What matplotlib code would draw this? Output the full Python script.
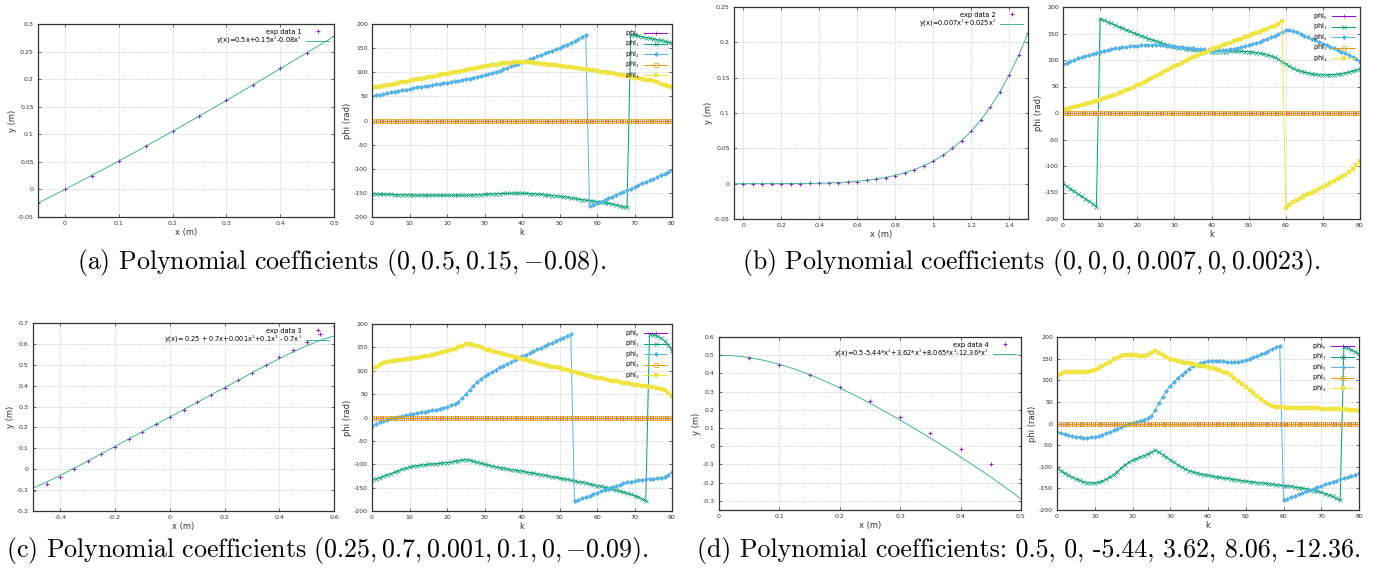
import numpy as np
import matplotlib.pyplot as plt
from matplotlib import ticker
from numpy.polynomial import polynomial as P

plt.rcParams['mathtext.fontset'] = 'cm'

W, H = 1373, 579

# gnuplot default palette
C_PURPLE = '#9400d3'
C_GREEN = '#009e73'
C_BLUE = '#56b4e9'
C_ORANGE = '#e69f00'
C_YELLOW = '#f0e442'

k = np.arange(81)
PHI_ZERO = np.zeros(81)

# ─── (a) coefficients (0, 0.5, 0.15, -0.08) ─────────────────────
XA = [-0.05, 0, 0.05, 0.1, 0.15, 0.2, 0.25, 0.3, 0.35, 0.4, 0.45, 0.5]
YA = [-0.025, 0, 0.025, 0.051, 0.078, 0.106, 0.134, 0.162, 0.19, 0.22, 0.248, 0.278]
COEF_A = [0, 0.5, 0.15, -0.08]
A_PHI1 = [-152, -152, -152.5, -153, -153, -153, -153.5, -154, -154, -154,
          -154, -154.5, -155, -155, -155, -155, -155, -155, -155, -155,
          -155, -155, -155, -155, -155, -155, -154.5, -154, -154, -153.5,
          -153, -152.5, -152, -152, -151.5, -151, -151, -151, -150.5, -150.5,
          -150.5, -151, -151.5, -152, -152.5, -153, -154, -155, -155.5, -156,
          -157, -158, -159, -160.5, -161.5, -163, -164, -165, -166, -167,
          -168, -169, -170.5, -171.5, -173, -174.5, -176.5, -178.5, -180, 178,
          176.5, 175, 173.5, 172, 170.5, 169, 167.5, 166, 164, 162,
          160]
A_PHI2 = [50, 52, 53.5, 55, 57, 58.5, 60, 61.5, 63, 64,
          65.5, 67, 68.5, 70, 71, 72, 73.5, 75, 76, 77,
          78, 79.5, 81, 82.5, 84, 85.5, 87, 89, 91, 93,
          95, 97, 99, 101, 103.5, 106, 109, 112, 115, 118,
          121, 124, 127, 130, 133, 136, 139, 142, 145, 148,
          151, 154, 157.5, 161, 165, 169, 173.5, 178, -178, -175,
          -171, -168, -164.5, -161, -158, -154.5, -151, -147.5, -144, -141,
          -137.5, -134, -130.5, -127, -124, -120.5, -117, -113.5, -110, -106.5,
          -103]
A_PHI4 = [67, 68.5, 70, 71.5, 73, 74.5, 76, 77.5, 79, 80.5,
          82, 83.5, 85, 86.5, 88, 89.5, 91, 92.5, 94, 95.5,
          97, 98.5, 100, 101.5, 103, 104.5, 106, 107.5, 109, 110.5,
          112, 113.5, 115, 116, 117.5, 118.5, 119.5, 120, 120.5, 121,
          121, 121, 120.5, 120, 119, 118, 117, 116, 115, 114,
          113, 112, 111, 110, 109, 108, 107, 106, 105, 104,
          102.5, 101, 100, 99, 98, 96.5, 95, 93.5, 92, 90.5,
          89, 87.5, 86, 84.5, 83, 81, 79, 76.5, 74, 71.5,
          69]

# ─── (b) coefficients (0, 0, 0, 0.007, 0, 0.0023) ───────────────
XB = [0, 0.05, 0.1, 0.15, 0.2, 0.25, 0.3, 0.35, 0.4, 0.45,
      0.5, 0.55, 0.6, 0.65, 0.7, 0.75, 0.8, 0.85, 0.9, 0.95,
      1.0, 1.05, 1.1, 1.15, 1.2, 1.25, 1.3, 1.35, 1.4, 1.45, 1.5]
YB = [0, 0, 0, 0, 0, 0, 0.0002, 0.0004, 0.0006, 0.001,
      0.0015, 0.002, 0.003, 0.0045, 0.006, 0.008, 0.011, 0.0145, 0.019, 0.025,
      0.032, 0.040, 0.05, 0.061, 0.074, 0.09, 0.108, 0.13, 0.154, 0.182, 0.213]
COEF_B = [0, 0, 0, 0.007, 0, 0.025]
B_PHI1 = [-133, -138, -143, -148, -153, -157.5, -162, -166.5, -171.5, -177,
          178, 175, 172, 169, 166, 163, 160, 157, 154, 151,
          148.5, 146, 143, 140.5, 138, 135.5, 133.5, 131, 129, 127,
          125, 123.5, 122, 121, 120, 119, 118, 117.5, 117, 116.5,
          116, 116, 116, 116, 116, 116.5, 116.5, 116.5, 116.5, 116,
          116, 115, 114, 113, 112, 110, 108, 105, 101, 97,
          93, 88, 84, 81, 78.5, 77, 75.5, 74, 73, 72.5,
          72, 72, 72, 72.5, 73, 74, 75.5, 77, 79, 81,
          83]
B_PHI2 = [92, 95, 98, 100.5, 103, 105, 107.5, 109.5, 111.5, 114,
          116, 117.5, 119, 120.5, 122, 123, 124, 125, 126, 126.5,
          127, 127.5, 128, 128, 128, 128, 128, 127.5, 127, 126.5,
          126, 125, 124, 123.5, 123, 122, 121, 120.5, 120, 119,
          118.5, 118, 118, 118.5, 119, 120, 121, 122.5, 124, 126,
          128, 130, 132, 134.5, 137, 140, 143, 146, 149.5, 153,
          156, 157, 155, 152, 149, 146, 143, 140, 137, 134,
          131, 128, 125, 122, 119, 116, 112.5, 109, 105, 101,
          97]
B_PHI4 = [5, 7, 9, 11, 13, 15, 17, 19, 21, 23,
          25, 27.5, 30, 32, 34.5, 37, 40, 43, 46, 49,
          52, 55.5, 59, 62.5, 66, 70, 73.5, 77, 81, 84.5,
          88, 91.5, 95, 98.5, 102, 105, 108, 111, 114, 117,
          120, 122.5, 125, 127.5, 130, 133, 135.5, 138, 140.5, 143,
          146, 148.5, 151, 153.5, 156, 158.5, 161.5, 164.5, 168, 173,
          -180, -173, -168, -164, -160.5, -157, -153.5, -150, -146.5, -143,
          -139.5, -136, -132.5, -129, -125, -121, -116.5, -111.5, -106, -99,
          -90]

# ─── (c) coefficients (0.25, 0.7, 0.001, 0.1, 0, -0.09) ─────────
XC = [-0.5, -0.45, -0.4, -0.35, -0.3, -0.25, -0.2, -0.15, -0.1, -0.05,
      0, 0.05, 0.1, 0.15, 0.2, 0.25, 0.3, 0.35, 0.4, 0.45, 0.5, 0.55, 0.6]
YC = [-0.104, -0.07, -0.035, 0.0, 0.038, 0.073, 0.108, 0.145, 0.18, 0.215,
      0.25, 0.285, 0.32, 0.355, 0.39, 0.427, 0.462, 0.498, 0.535, 0.57, 0.61, 0.647, 0.687]
COEF_C = [0.25, 0.7, 0.001, 0.1, 0, -0.7]
C_PHI1 = [-133, -131, -128.5, -126, -123, -120, -117, -114, -111, -108.5,
          -106, -104.5, -103, -102, -101, -100, -99.5, -99, -98, -97,
          -96.5, -95.5, -94, -92.5, -91, -90, -91.5, -94, -96, -98,
          -100, -102, -104, -105.5, -107, -108.5, -110, -111.5, -112.5, -114,
          -115, -116.5, -118, -119, -120.5, -122, -123.5, -125, -126.5, -128,
          -129.5, -131, -132.5, -134, -135.5, -137, -138.5, -140, -142, -143.5,
          -145.5, -147.5, -149.5, -151.5, -153.5, -155.5, -157.5, -159.5, -162, -164.5,
          -167, -170, -174, -179, 179, 177, 174, 170, 164, 156,
          143]
C_PHI2 = [-18, -14, -10, -7, -4.5, -2, 0, 2, 3.5, 5,
          6.5, 8, 9.5, 11, 12.5, 14, 15.5, 17, 19, 21,
          23, 26, 29.5, 34, 41, 50, 59, 68, 75, 82,
          88, 93, 98, 102.5, 107, 111, 115, 119, 123, 127,
          131, 134.5, 138, 142, 145.5, 149, 153, 156.5, 160, 164,
          167.5, 171, 175, 179, -179, -176, -173, -170, -167, -164,
          -161, -158, -155, -152, -149, -146, -143.5, -141, -139, -137,
          -135.5, -134, -133, -132, -131, -130.5, -130, -129, -127, -123,
          -116]
C_PHI4 = [100, 107, 113, 116, 118, 120, 121.5, 122.5, 123.5, 124.5,
          125.5, 126.5, 128, 129.5, 131, 132.5, 134, 136, 138, 140,
          142, 144.5, 147, 150, 153.5, 157.5, 157, 155, 152.5, 150,
          147.5, 145, 142.5, 140, 137.5, 135, 133, 131, 129, 127,
          125, 123, 121, 119, 117, 115, 113, 111, 109, 107,
          105, 103, 101, 99, 97, 95, 93, 91, 89, 87,
          85, 83.5, 82, 80.5, 79, 77.5, 76, 74.5, 73, 71.5,
          70, 69, 68, 67, 66, 64.5, 63, 61, 58, 53,
          47]

# ─── (d) coefficients 0.5, 0, -5.44, 3.62, 8.06, -12.36 ─────────
XD = [0, 0.05, 0.1, 0.15, 0.2, 0.25, 0.3, 0.35, 0.4, 0.45, 0.5]
YD = [0.5, 0.483, 0.446, 0.391, 0.325, 0.249, 0.163, 0.075, -0.015, -0.1, -0.18]
COEF_D = [0.5, 0, -5.44, 3.62, 8.065, -12.36]
D_PHI1 = [-103, -109, -115, -120, -124, -128, -131.5, -134.5, -136.5, -137.5,
          -137.5, -136, -133, -129, -124, -118, -111, -103, -96, -90,
          -85, -81, -77.5, -74, -70.5, -67, -62, -67, -72, -78,
          -84, -90, -95.5, -100.5, -105, -109, -112, -114.5, -116.5, -118.5,
          -120, -121.5, -123, -124.5, -125.5, -127, -128, -129.5, -131, -132,
          -133.5, -134.5, -135.5, -136.5, -137.5, -138.5, -139.5, -140.5, -141.5, -142.5,
          -143.5, -144.5, -145.5, -147, -148, -149.5, -151, -153, -155, -157,
          -159.5, -162, -165, -168.5, -173, -178, 176, 174, 171, 166,
          160]
D_PHI2 = [-19, -22, -25, -27.5, -29.5, -31, -32, -32.5, -32.5, -32,
          -30.5, -28.5, -26, -23, -19.5, -16, -12, -8, -4, -1,
          2, 4, 6.5, 9, 12, 17, 32, 48, 62, 75,
          86, 96, 105, 113, 120, 127, 132, 136, 139.5, 142,
          144, 145, 145.5, 145, 144, 143, 142, 142, 143, 145,
          147, 150, 153, 156, 160, 164, 168, 172, 176, 180,
          -177, -174, -170.5, -167, -164, -160.5, -157, -154, -150.5, -147,
          -144, -141, -138, -135, -132, -129, -126.5, -124, -121, -118,
          -115]
D_PHI4 = [110, 115, 118, 119, 119, 118.5, 118, 118, 119, 121,
          124, 128, 133, 138, 143, 148, 152.5, 156, 158, 158.5,
          158, 157.5, 157, 157, 158, 162, 168, 164, 158, 153,
          149, 146, 144, 142, 140.5, 139, 137.5, 136, 134, 132,
          130, 128, 126, 123, 120, 116, 111, 105, 98, 91,
          84, 77, 70, 63, 56, 50, 45, 41, 38.5, 37.5,
          37, 36.5, 36.5, 36, 36, 35.5, 35.5, 35, 35, 35,
          34.5, 34, 34, 33.5, 33, 33, 32.5, 32, 31.5, 31,
          30]

fig = plt.figure(figsize=(W / 100, H / 100), dpi=100)


def box(x0, y0, x1, y1):
    """pixel box (left, top, right, bottom) -> figure fraction rect"""
    return [x0 / W, 1 - y1 / H, (x1 - x0) / W, (y1 - y0) / H]


def style(ax):
    ax.grid(True, ls=':', lw=0.5, color='#b0b0b0')
    ax.set_axisbelow(True)
    ax.tick_params(direction='in', top=True, right=True, length=2.5,
                   width=0.5, labelsize=4.5, colors='#333333', pad=3)
    ax.xaxis.set_major_formatter(ticker.FuncFormatter(lambda v, p: f'{v:g}'))
    ax.yaxis.set_major_formatter(ticker.FuncFormatter(lambda v, p: f'{v:g}'))
    for s in ax.spines.values():
        s.set_linewidth(0.9)
        s.set_color('#333333')


def fit_panel(rect, xs, ys, coef, xlim, ylim, xticks, yticks, n, fit_label):
    ax = fig.add_axes(box(*rect))
    ax.plot(xs, ys, ls='none', marker='+', ms=3, mew=0.6, color=C_PURPLE,
            label=f'exp data {n}')
    xx = np.linspace(xlim[0], xlim[1], 400)
    ax.plot(xx, P.polyval(xx, coef), color=C_GREEN, lw=0.7, alpha=0.75,
            label=fit_label)
    ax.set_xlim(xlim)
    ax.set_ylim(ylim)
    ax.set_xticks(xticks)
    ax.set_yticks(yticks)
    ax.set_xlabel('x (m)', fontsize=6, labelpad=1, color='#333333')
    ax.set_ylabel('y (m)', fontsize=6, labelpad=1, color='#333333')
    ax.legend(loc='upper right', markerfirst=False, frameon=False,
              fontsize=4.8, handlelength=3.5, borderaxespad=0.3,
              labelspacing=0.1, handletextpad=0.6)
    style(ax)
    return ax


def phi_panel(rect, p1, p2, p4):
    ax = fig.add_axes(box(*rect))
    ax.plot(k, PHI_ZERO, color=C_PURPLE, lw=0.7, marker='+', ms=2.5,
            mew=0.5, label='phi$_0$')
    ax.plot(k, p1, color=C_GREEN, lw=0.7, marker='x', ms=2.2, mew=0.5,
            label='phi$_1$')
    ax.plot(k, p2, color=C_BLUE, lw=0.7, marker=(8, 2, 0), ms=3, mew=0.5,
            label='phi$_2$')
    ax.plot(k, PHI_ZERO, color=C_ORANGE, lw=0.7, marker='s', ms=2.3,
            mew=0.5, mfc='none', label='phi$_3$')
    ax.plot(k, p4, color=C_YELLOW, lw=0.7, marker='s', ms=2.8, mew=0.3,
            label='phi$_4$')
    ax.set_xlim(0, 80)
    ax.set_ylim(-200, 200)
    ax.set_xticks(range(0, 81, 10))
    ax.set_yticks(range(-200, 201, 50))
    ax.set_xlabel('k', fontsize=6, labelpad=1, color='#333333')
    ax.set_ylabel('phi (rad)', fontsize=6, labelpad=1, color='#333333')
    ax.legend(loc='upper right', markerfirst=False, frameon=False,
              fontsize=4.8, handlelength=3.5, borderaxespad=0.3,
              labelspacing=0.05, handletextpad=0.6, numpoints=1)
    style(ax)
    return ax


# ─── row 1 ─────────────────────────────────────────────────────
fit_panel((38, 24, 334, 217), XA, YA, COEF_A, (-0.05, 0.5), (-0.05, 0.3),
          [0, 0.1, 0.2, 0.3, 0.4, 0.5],
          [-0.05, 0, 0.05, 0.1, 0.15, 0.2, 0.25, 0.3],
          1, 'y(x)=0.5x+0.15x$^2$-0.08x$^3$')
phi_panel((372, 24, 672, 217), A_PHI1, A_PHI2, A_PHI4)

fit_panel((734, 7, 1028, 219), XB, YB, COEF_B, (-0.05, 1.5), (-0.05, 0.25),
          [0, 0.2, 0.4, 0.6, 0.8, 1.0, 1.2, 1.4],
          [-0.05, 0, 0.05, 0.1, 0.15, 0.2, 0.25],
          2, 'y(x)=0.007x$^3$+0.025x$^5$')
phi_panel((1063, 7, 1360, 219), B_PHI1, B_PHI2, B_PHI4)

# ─── row 2 ─────────────────────────────────────────────────────
fit_panel((33, 323, 334, 511), XC, YC, COEF_C, (-0.5, 0.6), (-0.2, 0.7),
          [-0.4, -0.2, 0, 0.2, 0.4, 0.6],
          [-0.2, -0.1, 0, 0.1, 0.2, 0.3, 0.4, 0.5, 0.6, 0.7],
          3, 'y(x)= 0.25 + 0.7x+0.001x$^2$+0.1x$^3$ - 0.7x$^5$')
phi_panel((372, 324, 672, 511), C_PHI1, C_PHI2, C_PHI4)

fit_panel((719, 337, 1021, 510), XD, YD, COEF_D, (0, 0.5), (-0.35, 0.6),
          [0, 0.1, 0.2, 0.3, 0.4, 0.5],
          [-0.3, -0.2, -0.1, 0, 0.1, 0.2, 0.3, 0.4, 0.5, 0.6],
          4, 'y(x)=0.5-5.44*x$^2$+3.62*x$^3$+8.065*x$^4$-12.36*x$^5$')
phi_panel((1057, 337, 1359, 510), D_PHI1, D_PHI2, D_PHI4)

# ─── sub-captions ──────────────────────────────────────────────
cap = dict(family='cmr10', fontsize=18.6, ha='center', va='center')
fig.text(342 / W, 1 - 262 / H,
         r'(a) Polynomial coefficients $(0,0.5,0.15,{-}0.08)$.', **cap)
fig.text(1031 / W, 1 - 262 / H,
         r'(b) Polynomial coefficients $(0,0,0,0.007,0,0.0023)$.', **cap)
fig.text(327 / W, 1 - 551 / H,
         r'(c) Polynomial coefficients $(0.25,0.7,0.001,0.1,0,{-}0.09)$.', **cap)
fig.text(1029 / W, 1 - 551 / H,
         '(d) Polynomial coefficients: 0.5, 0, -5.44, 3.62, 8.06, -12.36.', **cap)

fig.savefig('out.png', dpi=100)
